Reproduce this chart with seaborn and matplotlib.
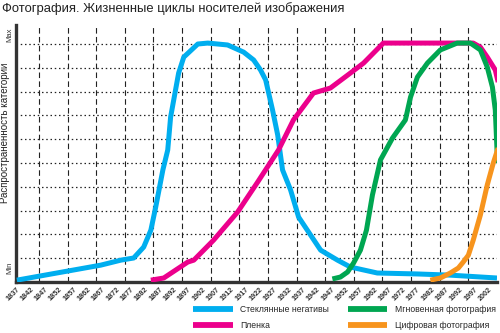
import matplotlib
matplotlib.use("Agg")
import matplotlib.pyplot as plt
import seaborn as sns
import pandas as pd

# Life cycles of photographic media: share of each category over time (0 = Min, 100 = Max)
glass_years = [1837.3, 1866.6, 1873.6, 1878.1, 1881.6, 1884.1, 1885.8, 1888.3, 1890.0, 1891.0,
               1893.8, 1895.6, 1900.5, 1904.0, 1910.9, 1916.5, 1920.0, 1922.4, 1924.2, 1926.6,
               1928.4, 1930.1, 1932.9, 1935.7, 1943.4, 1949.3, 1953.8, 1963.2, 1977.2, 1988.7, 2005.0]
glass_vals = [0.8, 7.1, 9.2, 10.1, 14.7, 21.8, 31.5, 47.1, 55.5, 69.3,
              87.8, 94.5, 100.0, 100.4, 99.6, 96.6, 93.3, 89.1, 84.9, 72.3,
              61.8, 47.1, 38.7, 27.3, 13.4, 9.2, 6.3, 3.8, 3.4, 2.9, 1.7]

film_years = [1884.1, 1888.6, 1897.0, 1899.1, 1906.0, 1914.4, 1921.4, 1928.7, 1933.9, 1940.9,
              1946.8, 1953.8, 1958.4, 1965.3, 1971.3, 1988.7, 1996.7, 1999.2, 2001.6, 2004.4, 2005.4]
film_vals = [0.8, 1.7, 8.4, 9.2, 17.6, 29.4, 42.0, 55.5, 68.1, 79.4,
             81.5, 87.8, 92.0, 100.4, 100.4, 100.4, 100.4, 98.7, 94.5, 89.1, 84.0]

instant_years = [1947.5, 1950.3, 1952.8, 1954.9, 1957.3, 1959.4, 1961.5, 1964.3, 1968.5, 1973.0,
                 1974.8, 1977.2, 1980.7, 1985.2, 1991.1, 1995.7, 1999.2, 2001.6, 2003.4, 2004.4, 2005.2]
instant_vals = [1.3, 2.1, 4.2, 8.0, 13.4, 21.8, 36.6, 51.3, 60.5, 68.1,
                77.7, 86.1, 92.0, 97.5, 100.4, 100.4, 97.5, 90.3, 81.9, 72.3, 50.0]

digital_years = [1981.7, 1985.2, 1988.7, 1991.5, 1993.2, 1995.0, 1996.7, 1999.2, 2001.6, 2003.7, 2005.4]
digital_vals = [0.8, 1.7, 3.8, 5.9, 8.4, 11.3, 17.6, 28.2, 40.8, 50.0, 56.3]

series_names = ["Стеклянные негативы", "Пленка", "Мгновенная фотография", "Цифровая фотография"]
series_colors = ["#00AEEF", "#EC008C", "#00A651", "#F7941D"]

tick_years = list(range(1837, 2003, 5))
grid_years = list(range(1845, 2000, 10))
grid_levels = list(range(10, 101, 10))

title_text = "Фотография. Жизненные циклы носителей изображения"
ylabel_text = "Распространенность категории"

frames = []
for name, xs, ys in zip(series_names,
                        [glass_years, film_years, instant_years, digital_years],
                        [glass_vals, film_vals, instant_vals, digital_vals]):
    frames.append(pd.DataFrame({"year": xs, "share": ys, "media": name}))
data = pd.concat(frames, ignore_index=True)

sns.set_style("white")
plt.rcParams["font.family"] = ["Liberation Sans", "DejaVu Sans"]

fig = plt.figure(figsize=(5.0, 3.33), dpi=100)
ax = fig.add_axes([0.032, 0.153, 0.962, 0.772])

# grid: dashed verticals, dotted horizontals
for gx in grid_years:
    ax.axvline(gx, color="#222222", lw=0.8, ls=(0, (5, 3)), zorder=1)
for gy in grid_levels:
    ax.axhline(gy, color="#222222", lw=0.9, ls=(0, (1.2, 2.2)), zorder=1)

sns.lineplot(data=data, x="year", y="share", hue="media", hue_order=series_names,
             palette=series_colors, lw=3.6, sort=False, ax=ax, zorder=3,
             legend=False, solid_joinstyle="round", solid_capstyle="butt")

ax.set_xlim(1837.3, 2005.0)
ax.set_ylim(0, 108)

ax.set_xticks(tick_years)
ax.set_xticklabels([str(y) for y in tick_years], rotation=45, ha="right",
                   rotation_mode="anchor", fontsize=5.2, fontweight="bold", color="#333333")
ax.set_yticks([6, 104])
ax.set_yticklabels(["Min", "Max"], rotation=90, va="center", fontsize=5.5, color="#333333")
ax.tick_params(axis="both", length=0, pad=2)
ax.tick_params(axis="x", pad=3)

ax.set_xlabel("")
ax.set_ylabel("")
fig.text(5 / 500, 1 - 133 / 333, ylabel_text, rotation=90, ha="center", va="center",
         fontsize=7, color="#222222")

for side in ["top", "right"]:
    ax.spines[side].set_visible(False)
for side in ["left", "bottom"]:
    ax.spines[side].set_color("#333333")
    ax.spines[side].set_linewidth(2.4)

fig.text(0.004, 0.995, title_text, ha="left", va="top", fontsize=9.4, color="#222222")

handles = [plt.Line2D([], [], color=c, lw=4.2, solid_capstyle="butt") for c in series_colors]
fig.legend(handles, series_names, loc="upper left", bbox_to_anchor=(0.386, 0.083),
           ncol=2, frameon=False, fontsize=6.2, handlelength=4.6, handletextpad=0.85,
           columnspacing=2.2, labelspacing=0.8, borderpad=0, borderaxespad=0)

fig.savefig("out.png", dpi=100)
